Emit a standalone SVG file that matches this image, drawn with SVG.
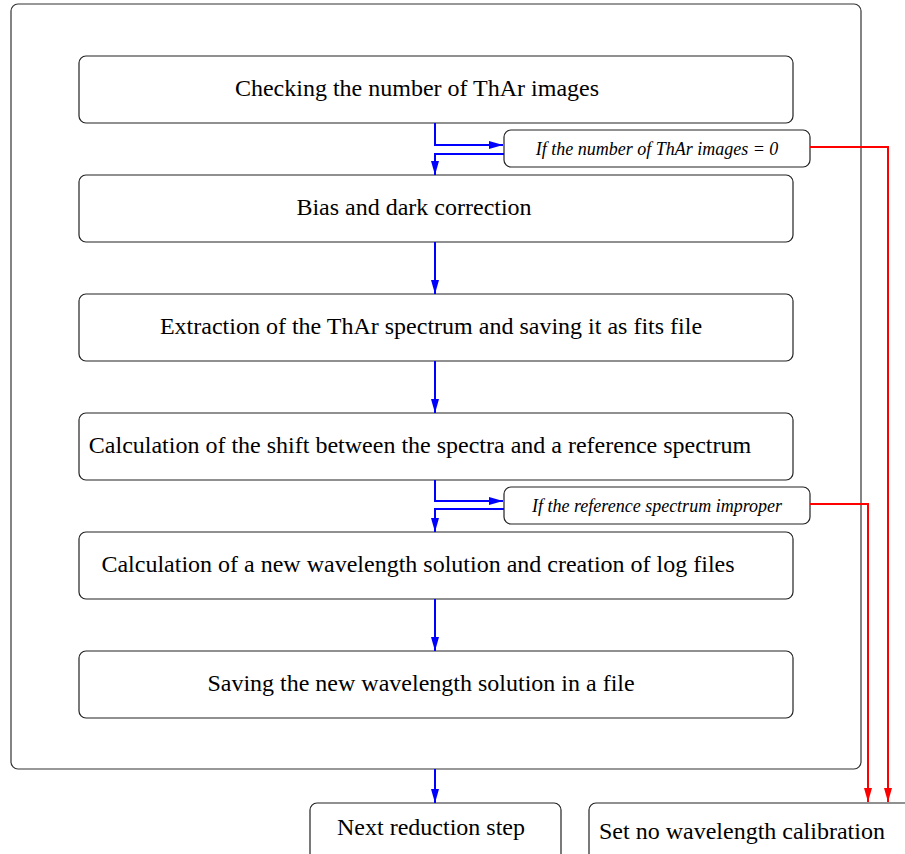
<svg xmlns="http://www.w3.org/2000/svg" width="905" height="854" viewBox="0 0 905 854">
  <style>
    .box { fill: #ffffff; stroke: #222222; stroke-width: 1.2; }
    .frame { fill: none; stroke: #333333; stroke-width: 1.2; }
    .main { font-family: "Liberation Serif", "Times New Roman", serif; font-size: 24px; fill: #000000; }
    .cond { font-family: "Liberation Serif", "Times New Roman", serif; font-size: 18px; font-style: italic; fill: #000000; }
    .blue { fill: none; stroke: #0000ff; stroke-width: 2; }
    .red { fill: none; stroke: #ff0000; stroke-width: 2; }
  </style>
  <defs>
    <marker id="ab" viewBox="0 0 14 8" refX="14" refY="4" markerWidth="14" markerHeight="8" markerUnits="userSpaceOnUse" orient="auto">
      <path d="M0,0 L14,4 L0,8 z" fill="#0000ff"/>
    </marker>
    <marker id="ar" viewBox="0 0 14 8" refX="14" refY="4" markerWidth="14" markerHeight="8" markerUnits="userSpaceOnUse" orient="auto">
      <path d="M0,0 L14,4 L0,8 z" fill="#ff0000"/>
    </marker>
  </defs>

  <rect width="905" height="854" fill="#ffffff"/>

  <!-- enclosing frame -->
  <g id="frame">
    <rect class="frame" x="11" y="4" width="850" height="765" rx="7"/>
  </g>

  <!-- processing steps -->
  <g id="step1">
    <rect class="box" x="79" y="56" width="714" height="67" rx="7"/>
    <text class="main" x="417" y="96" text-anchor="middle">Checking the number of ThAr images</text>
  </g>
  <g id="step2">
    <rect class="box" x="79" y="175" width="714" height="67" rx="7"/>
    <text class="main" x="414" y="215" text-anchor="middle">Bias and dark correction</text>
  </g>
  <g id="step3">
    <rect class="box" x="79" y="294" width="714" height="67" rx="7"/>
    <text class="main" x="431" y="334" text-anchor="middle">Extraction of the ThAr spectrum and saving it as fits file</text>
  </g>
  <g id="step4">
    <rect class="box" x="79" y="413" width="714" height="67" rx="7"/>
    <text class="main" x="420" y="453" text-anchor="middle">Calculation of the shift between the spectra and a reference spectrum</text>
  </g>
  <g id="step5">
    <rect class="box" x="79" y="532" width="714" height="67" rx="7"/>
    <text class="main" x="418" y="572" text-anchor="middle">Calculation of a new wavelength solution and creation of log files</text>
  </g>
  <g id="step6">
    <rect class="box" x="79" y="651" width="714" height="67" rx="7"/>
    <text class="main" x="421" y="691" text-anchor="middle">Saving the new wavelength solution in a file</text>
  </g>

  <!-- conditions -->
  <g id="cond1">
    <rect class="box" x="504" y="130" width="306" height="37" rx="7"/>
    <text class="cond" x="657" y="155" text-anchor="middle">If the number of ThAr images = 0</text>
  </g>
  <g id="cond2">
    <rect class="box" x="504" y="487" width="306" height="37" rx="7"/>
    <text class="cond" x="657" y="512" text-anchor="middle">If the reference spectrum improper</text>
  </g>

  <!-- outcomes -->
  <g id="next">
    <rect class="box" x="310" y="803" width="251" height="70" rx="7"/>
    <text class="main" x="431" y="835" text-anchor="middle">Next reduction step</text>
  </g>
  <g id="nocal">
    <rect class="box" x="589" y="803" width="340" height="70" rx="7"/>
    <text class="main" x="599" y="839">Set no wavelength calibration</text>
  </g>

  <!-- connectors -->
  <g id="connectors">
    <path class="blue" d="M435,123 V145 H503" marker-end="url(#ab)"/>
    <path class="blue" d="M504,154 H435 V175" marker-end="url(#ab)"/>
    <path class="blue" d="M435,242 V294" marker-end="url(#ab)"/>
    <path class="blue" d="M435,361 V413" marker-end="url(#ab)"/>
    <path class="blue" d="M435,480 V501 H503" marker-end="url(#ab)"/>
    <path class="blue" d="M504,509 H435 V532" marker-end="url(#ab)"/>
    <path class="blue" d="M435,599 V651" marker-end="url(#ab)"/>
    <path class="blue" d="M435,769 V803" marker-end="url(#ab)"/>
    <path class="red" d="M810,147 H888 V802" marker-end="url(#ar)"/>
    <path class="red" d="M810,504 H868 V802" marker-end="url(#ar)"/>
  </g>
</svg>
